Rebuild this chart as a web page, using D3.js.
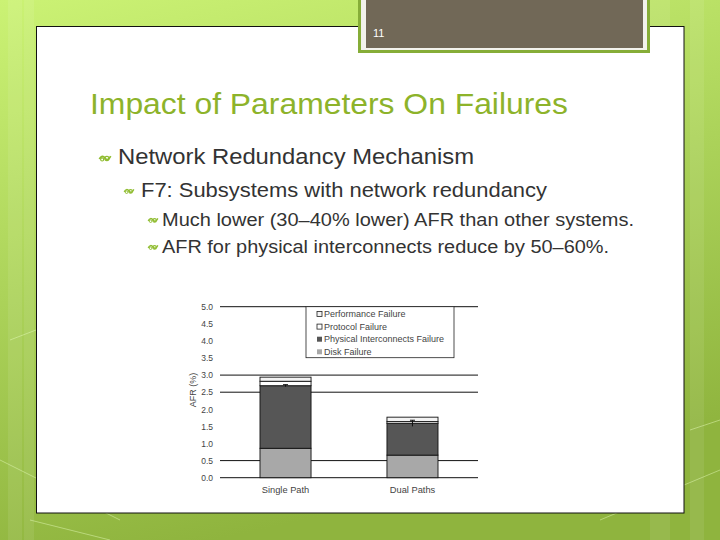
<!DOCTYPE html>
<html>
<head>
<meta charset="utf-8">
<script src="https://cdn.jsdelivr.net/npm/d3@7"></script>
<style>
  html, body { margin: 0; padding: 0; }
  body { width: 720px; height: 540px; overflow: hidden; }
  svg text { font-family: "Liberation Sans", Arial, sans-serif; }
</style>
</head>
<body>
<svg id="slide" width="720" height="540"></svg>
<script>
// chart data
const categories = ['Single Path', 'Dual Paths'];
const seriesNames = ['Disk Failure', 'Physical Interconnects Failure', 'Protocol Failure', 'Performance Failure'];
const diskAFR = [0.86, 0.66];
const physicalAFR = [1.83, 0.93];
const protocolAFR = [0.13, 0.05];
const performanceAFR = [0.12, 0.13];
const physicalErr = [0.03, 0.09];
const yTicks = [0, 0.5, 1.0, 1.5, 2.0, 2.5, 3.0, 3.5, 4.0, 4.5, 5.0];
const gridValues = [0, 0.5, 2.5, 3.0, 5.0];
const legendOrder = ['Performance Failure', 'Protocol Failure', 'Physical Interconnects Failure', 'Disk Failure'];

const bullets = [
    {level: 0, text: 'Network Redundancy Mechanism'},
    {level: 1, text: 'F7: Subsystems with network redundancy'},
    {level: 2, text: 'Much lower (30\u201340% lower) AFR than other systems.'},
    {level: 2, text: 'AFR for physical interconnects reduce by 50\u201360%.'}
];

const svg = d3.select('#slide');

// ---- slide background ----
let defs = svg.append('defs');
let bg = defs.append('linearGradient')
    .attr('id', 'bg').attr('x1', 0).attr('y1', 0).attr('x2', 0.3).attr('y2', 1);
bg.append('stop').attr('offset', '0%').attr('stop-color', '#cbf274');
bg.append('stop').attr('offset', '50%').attr('stop-color', '#acd35a');
bg.append('stop').attr('offset', '100%').attr('stop-color', '#8fb43e');

svg.append('rect').attr('width', 720).attr('height', 540).attr('fill', 'url(#bg)');

// faint vertical bands and lines on the background
[[8, 14], [24, 10], [650, 20], [690, 14]].forEach(function(b) {
    svg.append('rect').attr('x', b[0]).attr('y', 0).attr('width', b[1]).attr('height', 540)
        .attr('fill', '#ffffff').attr('opacity', 0.08);
});
[[0, 460, 120, 520], [10, 340, 36, 330], [600, 520, 720, 470], [690, 430, 720, 420], [30, 520, 110, 540]].forEach(function(l) {
    svg.append('line').attr('x1', l[0]).attr('y1', l[1]).attr('x2', l[2]).attr('y2', l[3])
        .attr('stroke', '#eaffc0').attr('stroke-width', 1).attr('opacity', 0.45);
});

// white content panel
svg.append('rect')
    .attr('x', 36.5).attr('y', 26.5).attr('width', 647.5).attr('height', 486.5)
    .attr('fill', '#ffffff').attr('stroke', '#111').attr('stroke-width', 1);

// page number box
svg.append('rect').attr('x', 358).attr('y', -4).attr('width', 292).attr('height', 57).attr('fill', '#86ad38');
svg.append('rect').attr('x', 361).attr('y', -4).attr('width', 286).attr('height', 54).attr('fill', '#f2f2ec');
svg.append('rect').attr('x', 366).attr('y', -4).attr('width', 277).attr('height', 52).attr('fill', '#716857');
svg.append('text').attr('x', 373).attr('y', 37).attr('fill', '#ffffff')
    .style('font-size', '11px').text('11');

// title (the slide text is drawn a little wider than the font, so fix its length)
svg.append('text')
    .attr('x', 90).attr('y', 114)
    .attr('fill', '#8db32a')
    .style('font-size', '30px')
    .attr('textLength', 478).attr('lengthAdjust', 'spacingAndGlyphs')
    .text('Impact of Parameters On Failures');

// bullets
const bulletX = [97, 121, 145];
const textX = [118, 141, 162];
const baseY = [164, 197, 226, 253];
const bulletSize = [22.5, 20.5, 17.5, 17.5];
const textLen = [356, 406, 472, 447];

function bulletGlyph(x, y, s) {
    let g = svg.append('g').attr('transform', 'translate(' + x + ',' + y + ') scale(' + s + ')');
    g.append('path')
        .attr('d', 'M-6,1 Q-3,-4 0,0 Q3,4 6,-2')
        .attr('fill', 'none').attr('stroke', '#8fbc2f').attr('stroke-width', 1.8);
    g.append('circle').attr('cx', 2).attr('cy', 0.5).attr('r', 2.2)
        .attr('fill', 'none').attr('stroke', '#8fbc2f').attr('stroke-width', 1.3);
    g.append('circle').attr('cx', -3).attr('cy', 1.5).attr('r', 1.6)
        .attr('fill', 'none').attr('stroke', '#8fbc2f').attr('stroke-width', 1.2);
}

bullets.forEach(function(b, i) {
    bulletGlyph(bulletX[b.level] + 8, baseY[i] - 6, b.level === 0 ? 0.95 : 0.8);
    svg.append('text')
        .attr('x', textX[b.level]).attr('y', baseY[i])
        .attr('fill', '#333333')
        .style('font-size', bulletSize[i] + 'px')
        .attr('textLength', textLen[i]).attr('lengthAdjust', 'spacingAndGlyphs')
        .text(b.text);
});

// ---- the chart ----
const y = d3.scaleLinear().domain([0, 5]).range([477.7, 306.7]);
const x = d3.scaleBand().domain(categories).range([220, 478])
    .paddingInner(0.598).paddingOuter(0.315);

const chart = svg.append('g').attr('class', 'chart');

// grid lines
chart.selectAll('.grid')
    .data(gridValues)
    .enter().append('line')
    .attr('class', 'grid')
    .attr('x1', 220).attr('x2', 478)
    .attr('y1', function(d) { return y(d); })
    .attr('y2', function(d) { return y(d); })
    .attr('stroke', '#111').attr('stroke-width', 1);

// y axis (labels only)
const yAxis = d3.axisLeft(y).tickValues(yTicks).tickFormat(d3.format('.1f')).tickSize(0).tickPadding(7);
const yg = chart.append('g').attr('transform', 'translate(220,0)').call(yAxis);
yg.select('.domain').remove();
yg.selectAll('text').attr('fill', '#444').style('font-size', '8.5px')
    .style('font-family', '"Liberation Sans", Arial, sans-serif');

// x axis labels
const xAxis = d3.axisBottom(x).tickSize(0).tickPadding(9);
const xg = chart.append('g').attr('transform', 'translate(0,' + y(0) + ')').call(xAxis);
xg.select('.domain').remove();
xg.selectAll('text').attr('fill', '#444').style('font-size', '9.3px')
    .style('font-family', '"Liberation Sans", Arial, sans-serif');

chart.append('text')
    .attr('transform', 'translate(196,390) rotate(-90)')
    .attr('text-anchor', 'middle')
    .attr('fill', '#444')
    .style('font-size', '9px')
    .text('AFR (%)');

// stacked bars
const rows = categories.map(function(c, i) {
    return {
        cat: c,
        'Disk Failure': diskAFR[i],
        'Physical Interconnects Failure': physicalAFR[i],
        'Protocol Failure': protocolAFR[i],
        'Performance Failure': performanceAFR[i]
    };
});
const stacked = d3.stack().keys(seriesNames)(rows);
const fills = {
    'Disk Failure': '#a8a8a8',
    'Physical Interconnects Failure': '#565656',
    'Protocol Failure': '#ffffff',
    'Performance Failure': '#f3f3f3'
};

chart.selectAll('.layer')
    .data(stacked)
    .enter().append('g')
    .attr('class', 'layer')
    .attr('fill', function(d) { return fills[d.key]; })
    .selectAll('rect')
    .data(function(d) { return d; })
    .enter().append('rect')
    .attr('x', function(d) { return x(d.data.cat); })
    .attr('width', x.bandwidth())
    .attr('y', function(d) { return y(d[1]); })
    .attr('height', function(d) { return y(d[0]) - y(d[1]); })
    .attr('stroke', '#111').attr('stroke-width', 0.9);

// error bars on the physical interconnects segment
const physTop = stacked[1];
chart.selectAll('.err')
    .data(physTop)
    .enter().append('g')
    .attr('class', 'err')
    .each(function(d, i) {
        let cx = x(d.data.cat) + x.bandwidth() / 2;
        let g = d3.select(this);
        g.append('line').attr('x1', cx).attr('x2', cx)
            .attr('y1', y(d[1] - physicalErr[i])).attr('y2', y(d[1] + physicalErr[i]))
            .attr('stroke', '#111').attr('stroke-width', 1);
        g.append('line').attr('x1', cx - 2.5).attr('x2', cx + 2.5)
            .attr('y1', y(d[1] + physicalErr[i])).attr('y2', y(d[1] + physicalErr[i]))
            .attr('stroke', '#111').attr('stroke-width', 1);
    });

// legend
const legend = chart.append('g');
legend.append('rect')
    .attr('x', 306).attr('y', y(5)).attr('width', 148).attr('height', 51)
    .attr('fill', '#ffffff').attr('stroke', '#222').attr('stroke-width', 0.8);

const item = legend.selectAll('.legend-item')
    .data(legendOrder)
    .enter().append('g')
    .attr('class', 'legend-item')
    .attr('transform', function(d, i) { return 'translate(317,' + (314 + i * 12.6) + ')'; });

item.append('rect')
    .attr('x', 0).attr('y', -2.5).attr('width', 5).attr('height', 5)
    .attr('fill', function(d) { return fills[d]; })
    .attr('stroke', function(d) { return fills[d] === '#ffffff' || fills[d] === '#f3f3f3' ? '#222' : 'none'; })
    .attr('stroke-width', 0.8);

item.append('text')
    .attr('x', 7).attr('dy', '0.35em')
    .attr('fill', '#444')
    .style('font-size', '9px')
    .text(function(d) { return d; });
</script>
</body>
</html>
